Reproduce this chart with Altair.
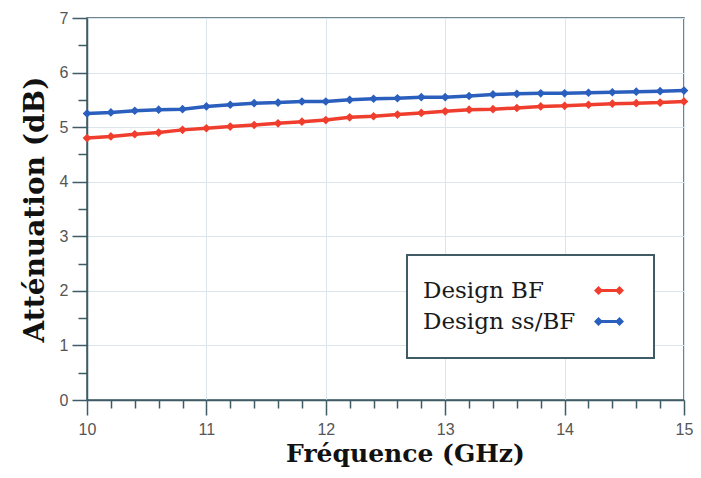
import altair as alt
import pandas as pd

freq = [10.0, 10.2, 10.4, 10.6, 10.8, 11.0, 11.2, 11.4, 11.6, 11.8, 12.0, 12.2, 12.4,
        12.6, 12.8, 13.0, 13.2, 13.4, 13.6, 13.8, 14.0, 14.2, 14.4, 14.6, 14.8, 15.0]
design_bf = [4.80, 4.83, 4.87, 4.90, 4.95, 4.98, 5.01, 5.04, 5.07, 5.10, 5.13, 5.18, 5.20,
             5.23, 5.26, 5.29, 5.32, 5.33, 5.35, 5.38, 5.39, 5.41, 5.43, 5.44, 5.45, 5.47]
design_ss = [5.25, 5.27, 5.30, 5.32, 5.33, 5.38, 5.41, 5.44, 5.45, 5.47, 5.47, 5.50, 5.52,
             5.53, 5.55, 5.55, 5.57, 5.60, 5.61, 5.62, 5.62, 5.63, 5.64, 5.65, 5.66, 5.67]
series_names = ["Design BF", "Design ss/BF"]
series_colors = ["#f03e2e", "#2b5fbd"]
x_ticks = [10.0, 10.2, 10.4, 10.6, 10.8, 11.0, 11.2, 11.4, 11.6, 11.8, 12.0, 12.2, 12.4,
           12.6, 12.8, 13.0, 13.2, 13.4, 13.6, 13.8, 14.0, 14.2, 14.4, 14.6, 14.8, 15.0]
y_ticks = [0, 0.5, 1, 1.5, 2, 2.5, 3, 3.5, 4, 4.5, 5, 5.5, 6, 6.5, 7]

rows = []
for f, a, b in zip(freq, design_bf, design_ss):
    rows.append({"f": f, "v": a, "s": series_names[0]})
    rows.append({"f": f, "v": b, "s": series_names[1]})
df = pd.DataFrame(rows)

is_int = "abs(datum.value - round(datum.value)) < 1e-6"
axis_col = "#3f5b66"

x_axis = alt.Axis(
    values=x_ticks, title="Fréquence (GHz)",
    labelExpr=f"{is_int} ? format(datum.value, 'd') : ''",
    tickSize={"condition": {"test": is_int, "value": 15}, "value": 8},
    gridOpacity={"condition": {"test": is_int, "value": 1}, "value": 0},
    labelFont="Liberation Sans", labelFontSize=16, labelColor="#555555", labelPadding=6,
    labelFlush=False,
    titleFont="DejaVu Serif", titleFontWeight="bold", titleFontSize=25, titleColor="#111111",
    titlePadding=4, titleX=318, domainColor=axis_col, tickColor=axis_col, domainWidth=1.5,
    tickWidth=1.5, gridColor="#dbe6ec",
)
y_axis = alt.Axis(
    values=y_ticks, title="Atténuation (dB)",
    labelExpr=f"{is_int} ? format(datum.value, 'd') : ''",
    tickSize={"condition": {"test": is_int, "value": 15}, "value": 9},
    gridOpacity={"condition": {"test": is_int, "value": 1}, "value": 0},
    labelFont="Liberation Sans", labelFontSize=16, labelColor="#555555", labelPadding=4,
    labelFlush=False,
    titleFont="DejaVu Serif", titleFontWeight="bold", titleFontSize=28, titleColor="#111111",
    titlePadding=10, domainColor=axis_col, tickColor=axis_col, domainWidth=1.5, tickWidth=1.5,
    gridColor="#dbe6ec",
)

x = alt.X("f:Q", scale=alt.Scale(domain=[10, 15], nice=False, zero=False), axis=x_axis)
y = alt.Y("v:Q", scale=alt.Scale(domain=[0, 7], nice=False), axis=y_axis)
color_scale = alt.Scale(domain=series_names, range=series_colors)

sym_path = ("M31.2,-0.3L35.4,-0.3L35.4,0.3L31.2,0.3Z "
            "M31.2,-0.9L32.1,0L31.2,0.9L30.3,0Z "
            "M35.4,-0.9L36.3,0L35.4,0.9L34.5,0Z "
            "M37.5,0L37.5,0.001Z")

lines = alt.Chart(df).mark_line(strokeWidth=3.5).encode(
    x=x, y=y, color=alt.Color("s:N", scale=color_scale, legend=None)
)
points = alt.Chart(df).mark_point(shape="diamond", filled=True, size=75, opacity=1).encode(
    x=x, y=y,
    color=alt.Color("s:N", scale=color_scale, legend=alt.Legend(
        title=None, orient="none", legendX=320, legendY=237,
        symbolType=sym_path, symbolSize=100, symbolStrokeWidth=0, symbolOpacity=1,
        labelOffset={"expr": "-31"}, labelFont="DejaVu Serif", labelFontSize=23,
        labelColor="#1a1a1a",
        labelLimit=400, rowPadding=7, padding=24,
        strokeColor=axis_col, fillColor="white",
    )),
)

chart = alt.layer(lines, points).resolve_legend(color="independent").properties(
    width=597, height=382,
    autosize=alt.AutoSizeParams(type="none"),
    padding={"left": 79, "top": 10, "right": 9, "bottom": 70},
).configure_view(stroke=axis_col, strokeWidth=1.5).configure_legend(strokeWidth=2)

chart.save("out.html", embed_options={"renderer": "svg", "actions": False})
